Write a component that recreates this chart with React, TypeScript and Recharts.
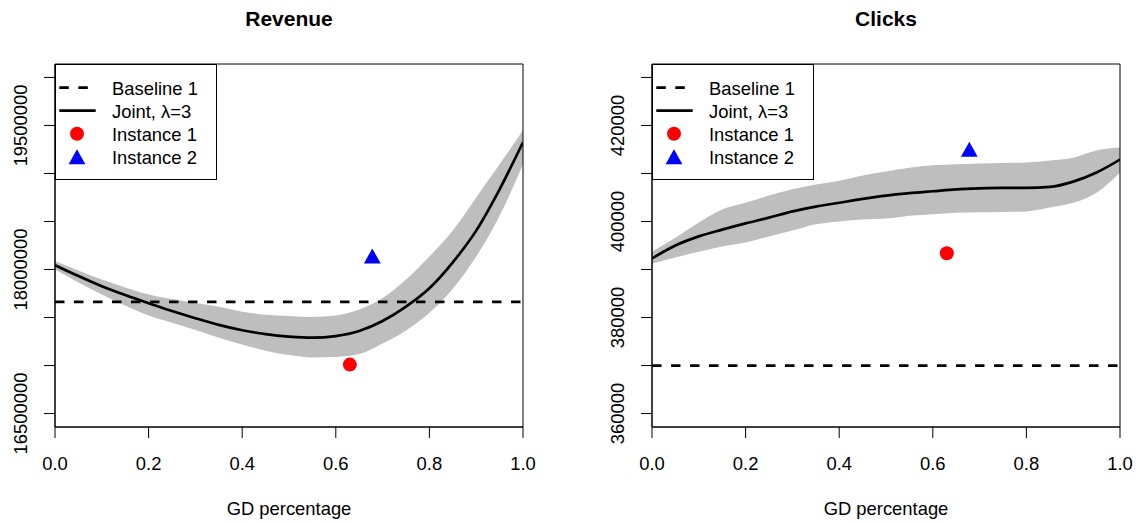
import React from 'react';
import {
  ComposedChart,
  Line,
  Area,
  Scatter,
  XAxis,
  YAxis,
  ReferenceLine,
  ReferenceArea,
  Legend,
} from 'recharts';

// GD percentage grid shared by both panels
const gdPercentage = [
  0, 0.05, 0.1, 0.15, 0.2, 0.25, 0.3, 0.35, 0.4, 0.45, 0.5,
  0.55, 0.6, 0.65, 0.7, 0.75, 0.8, 0.85, 0.9, 0.95, 1.0,
];

// Revenue: joint model curve and its band
const revenueJoint = [
  18045000, 17932000, 17826000, 17734000, 17649000, 17568000, 17493000,
  17424000, 17368000, 17328000, 17302000, 17290000, 17307000, 17360000,
  17464000, 17614000, 17805000, 18075000, 18405000, 18835000, 19325000,
];
const revenueLower = [
  18000000, 17865000, 17740000, 17625000, 17520000, 17445000, 17370000,
  17290000, 17220000, 17155000, 17110000, 17085000, 17090000, 17120000,
  17230000, 17365000, 17550000, 17800000, 18135000, 18560000, 19095000,
];
const revenueUpper = [
  18085000, 17990000, 17895000, 17812000, 17740000, 17693000, 17651000,
  17612000, 17560000, 17530000, 17515000, 17505000, 17520000, 17583000,
  17703000, 17895000, 18135000, 18405000, 18750000, 19095000, 19450000,
];
const revenueBaseline = 17663000;
const revenueInstance1 = [{ x: 0.63, y: 17010000 }];
const revenueInstance2 = [{ x: 0.678, y: 18115000 }];
const revenueYTicks = [
  16500000, 17000000, 17500000, 18000000, 18500000, 19000000, 19500000, 20000000,
];
const revenueYLabels = [16500000, 18000000, 19500000];
const revenueDomain: [number, number] = [16360000, 20140000];

// Clicks: joint model curve and its band
const clicksJoint = [
  392300, 395000, 396900, 398300, 399600, 400800, 402100, 403100, 403900,
  404700, 405400, 405900, 406300, 406700, 406900, 407000, 407000, 407200,
  408300, 410200, 412900,
];
const clicksLower = [
  391200, 392500, 393700, 394800, 395600, 396900, 398100, 399400, 400000,
  400400, 400600, 401200, 401500, 401800, 401900, 402000, 402100, 402900,
  403900, 406000, 410200,
];
const clicksUpper = [
  393700, 396600, 399800, 402500, 403900, 405400, 406700, 407700, 408500,
  409600, 410400, 411200, 411700, 411900, 412100, 412200, 412300, 412700,
  413300, 414800, 415400,
];
const clicksBaseline = 370000;
const clicksInstance1 = [{ x: 0.63, y: 393400 }];
const clicksInstance2 = [{ x: 0.678, y: 414500 }];
const clicksYTicks = [360000, 370000, 380000, 390000, 400000, 410000, 420000, 430000];
const clicksYLabels = [360000, 380000, 400000, 420000];
const clicksDomain: [number, number] = [357200, 432800];

const xTicks = [0, 0.2, 0.4, 0.6, 0.8, 1.0];
const xTickLabels = ['0.0', '0.2', '0.4', '0.6', '0.8', '1.0'];
const legendLabels = ['Baseline 1', 'Joint, \u03BB=3', 'Instance 1', 'Instance 2'];

const FONT = '"Liberation Sans", Arial, Helvetica, sans-serif';
const FS = 18.4;
const BAND = '#BEBEBE';
const LW = 2.7;
const DASH = '9.5 9.5';

const buildRows = (joint: number[], lo: number[], hi: number[]) =>
  gdPercentage.map((x, i) => ({ x, joint: joint[i], band: [lo[i], hi[i]] }));

const triPoints = (cx: number, cy: number) =>
  `${cx},${cy - 10} ${cx + 8.4},${cy + 5} ${cx - 8.4},${cy + 5}`;

const RedDot = (p: any) => <circle cx={p.cx} cy={p.cy} r={7} fill="#FF0000" />;
const BlueTri = (p: any) => <polygon points={triPoints(p.cx, p.cy)} fill="#0000FF" />;

const makeYTick = (labelled: number[]) => (props: any) => {
  const { x, y, payload } = props;
  if (!labelled.includes(payload.value)) return <g />;
  const bx = x - 15;
  return (
    <text
      x={bx}
      y={y}
      transform={`rotate(-90 ${bx} ${y})`}
      textAnchor="middle"
      fontFamily={FONT}
      fontSize={FS}
      fill="#000"
    >
      {String(payload.value)}
    </text>
  );
};

const XTick = (props: any) => {
  const { x, y, payload } = props;
  const idx = xTicks.indexOf(payload.value);
  return (
    <text x={x} y={y + 29.5} textAnchor="middle" fontFamily={FONT} fontSize={FS} fill="#000">
      {idx >= 0 ? xTickLabels[idx] : String(payload.value)}
    </text>
  );
};

const LegendBox = () => {
  const rowY = [23.7, 46.7, 69.7, 92.7];
  return (
    <svg width={163} height={117} style={{ display: 'block', overflow: 'visible' }}>
      <rect x={0.5} y={0.5} width={161} height={115} fill="#fff" stroke="#000" strokeWidth={1} />
      <line x1={4.3} x2={40.7} y1={rowY[0]} y2={rowY[0]} stroke="#000" strokeWidth={LW} strokeDasharray={DASH} />
      <line x1={4.3} x2={40.7} y1={rowY[1]} y2={rowY[1]} stroke="#000" strokeWidth={LW} />
      <circle cx={22} cy={rowY[2]} r={7} fill="#FF0000" />
      <polygon points={triPoints(22, rowY[3] + 2.5)} fill="#0000FF" />
      {legendLabels.map((t, i) => (
        <text key={t} x={57} y={rowY[i] + 6.8} fontFamily={FONT} fontSize={FS} fill="#000">
          {t}
        </text>
      ))}
    </svg>
  );
};

type PanelProps = {
  title: string;
  rows: { x: number; joint: number; band: number[] }[];
  baseline: number;
  inst1: { x: number; y: number }[];
  inst2: { x: number; y: number }[];
  domain: [number, number];
  yTicks: number[];
  yLabels: number[];
  left: number;
  marginLeft: number;
  marginRight: number;
};

const Panel = (p: PanelProps) => {
  const plotCenter = p.marginLeft + 55 + 234;
  return (
    <div style={{ position: 'absolute', left: p.left, top: 0, width: 571, height: 523 }}>
      <ComposedChart
        width={571}
        height={523}
        data={p.rows}
        margin={{ top: 64, right: p.marginRight, bottom: 36, left: p.marginLeft }}
      >
        <XAxis
          dataKey="x"
          type="number"
          domain={[0, 1]}
          ticks={xTicks}
          allowDataOverflow
          height={60}
          tickSize={11}
          tick={<XTick />}
          axisLine={{ stroke: '#000', strokeWidth: 1 }}
          tickLine={{ stroke: '#000', strokeWidth: 1 }}
        />
        <YAxis
          type="number"
          domain={p.domain}
          ticks={p.yTicks}
          allowDataOverflow
          width={55}
          tickSize={11}
          interval={0}
          tick={makeYTick(p.yLabels)}
          axisLine={{ stroke: '#000', strokeWidth: 1 }}
          tickLine={{ stroke: '#000', strokeWidth: 1 }}
        />
        <Area
          dataKey="band"
          type="monotone"
          fill={BAND}
          fillOpacity={1}
          stroke="none"
          isAnimationActive={false}
          legendType="none"
        />
        <Line
          dataKey="joint"
          type="monotone"
          stroke="#000"
          strokeWidth={LW}
          dot={false}
          activeDot={false}
          isAnimationActive={false}
        />
        <ReferenceLine y={p.baseline} stroke="#000" strokeWidth={LW} strokeDasharray={DASH} />
        <Scatter data={p.inst1} dataKey="y" shape={RedDot} isAnimationActive={false} />
        <Scatter data={p.inst2} dataKey="y" shape={BlueTri} isAnimationActive={false} />
        <ReferenceArea
          x1={0}
          x2={1}
          y1={p.domain[0]}
          y2={p.domain[1]}
          fill="none"
          fillOpacity={0}
          stroke="#000"
          strokeWidth={1}
          ifOverflow="visible"
        />
        <Legend
          layout="vertical"
          align="center"
          verticalAlign="middle"
          content={() => <LegendBox />}
          wrapperStyle={{ left: p.marginLeft + 55, top: 64, width: 163, height: 117, margin: 0, padding: 0 }}
        />
        <text x={plotCenter} y={26} textAnchor="middle" fontFamily={FONT} fontWeight="bold" fontSize={21} fill="#000">
          {p.title}
        </text>
        <text x={plotCenter} y={515} textAnchor="middle" fontFamily={FONT} fontSize={FS} fill="#000">
          GD percentage
        </text>
      </ComposedChart>
    </div>
  );
};

export default function App() {
  return (
    <div style={{ position: 'absolute', left: 0, top: 0, width: 1142, height: 523, background: '#fff' }}>
      <Panel
        title="Revenue"
        rows={buildRows(revenueJoint, revenueLower, revenueUpper)}
        baseline={revenueBaseline}
        inst1={revenueInstance1}
        inst2={revenueInstance2}
        domain={revenueDomain}
        yTicks={revenueYTicks}
        yLabels={revenueYLabels}
        left={0}
        marginLeft={0}
        marginRight={48}
      />
      <Panel
        title="Clicks"
        rows={buildRows(clicksJoint, clicksLower, clicksUpper)}
        baseline={clicksBaseline}
        inst1={clicksInstance1}
        inst2={clicksInstance2}
        domain={clicksDomain}
        yTicks={clicksYTicks}
        yLabels={clicksYLabels}
        left={571}
        marginLeft={26}
        marginRight={22}
      />
    </div>
  );
}
